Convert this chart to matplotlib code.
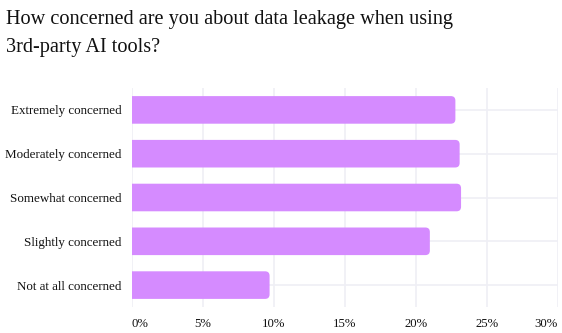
import matplotlib
matplotlib.use("Agg")
import matplotlib.pyplot as plt
from matplotlib.patches import FancyBboxPatch
from matplotlib.ticker import FuncFormatter

categories = ["Extremely concerned", "Moderately concerned", "Somewhat concerned",
              "Slightly concerned", "Not at all concerned"]
values = [22.8, 23.1, 23.2, 21.0, 9.7]
xticks = [0, 5, 10, 15, 20, 25, 30]

plt.rcParams['font.family'] = ['Liberation Serif', 'DejaVu Serif']

W, H = 562, 333
fig = plt.figure(figsize=(W / 100, H / 100), dpi=100)
ax_l, ax_r, ax_t, ax_b = 132, 557.5, 88, 307
ax = fig.add_axes([ax_l / W, 1 - ax_b / H, (ax_r - ax_l) / W, (ax_b - ax_t) / H])

bar_color = "#d58bff"
grid_color = "#efeff5"
bar_h = 0.63

ypos = list(range(len(categories)))
ax.set_xlim(0, 30)
ax.set_ylim(len(categories) - 0.5, -0.5)

px_x = (ax_r - ax_l) / 30.0
px_y = (ax_b - ax_t) / len(categories)
r_px = 4.5
r_x = r_px / px_x
aspect = (1 / px_y) / (1 / px_x)

for y, v in zip(ypos, values):
    p = FancyBboxPatch((-r_x * 2, y - bar_h / 2), v + r_x * 2, bar_h,
                       boxstyle=f"round,pad=0,rounding_size={r_x}",
                       mutation_aspect=aspect,
                       facecolor=bar_color, edgecolor="none", zorder=3)
    ax.add_patch(p)

ax.set_xticks(xticks)
ax.xaxis.set_major_formatter(FuncFormatter(lambda v, _: f"{v:.0f}%"))
ax.set_yticks(ypos)
ax.set_yticklabels(categories)
ax.grid(True, color=grid_color, linewidth=1.2, zorder=0)
ax.set_axisbelow(True)
for s in ax.spines.values():
    s.set_visible(False)
ax.tick_params(axis='both', length=0)
ax.tick_params(axis='y', pad=7.5, labelsize=9.4)
ax.tick_params(axis='x', pad=7.8, labelsize=9.2)
for lbl in ax.get_xticklabels() + ax.get_yticklabels():
    lbl.set_color("#111111")
xl = ax.get_xticklabels()
xl[0].set_horizontalalignment('left')
xl[-1].set_horizontalalignment('right')

fig.text(6 / W, 1 - 24 / H, "How concerned are you about data leakage when using",
         fontsize=14.6, va='baseline', ha='left', color="#111111")
fig.text(6 / W, 1 - 51.7 / H, "3rd-party AI tools?",
         fontsize=14.6, va='baseline', ha='left', color="#111111")

fig.savefig("out.png", dpi=100)
